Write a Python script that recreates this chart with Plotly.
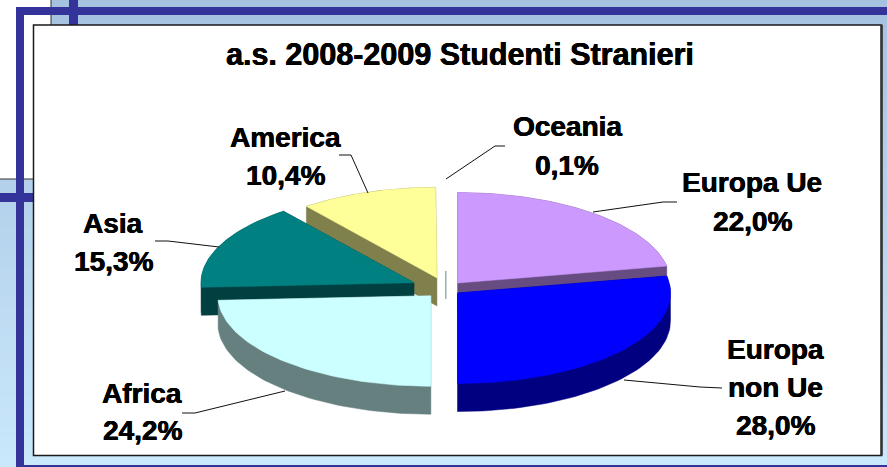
import math
import plotly.graph_objects as go

# ---- data ----
categories = ["Europa Ue", "Europa non Ue", "Africa", "Asia", "America", "Oceania"]
values = [22.0, 28.0, 24.2, 15.3, 10.4, 0.1]
title_text = "a.s. 2008-2009 Studenti Stranieri"

# ---- styling / layout ----
W, H = 887, 467
top_colors = ["#CC99FF", "#0000FF", "#CCFFFF", "#008080", "#FFFF99", "#FFFFFF"]
side_colors = ["#664C80", "#000080", "#668080", "#004040", "#80804C", "#5F8A8A"]
explode = [0.085, 0.07, 0.103, 0.165, 0.13, 0.2]
CX, CY, RX, RY, DEPTH = 446.0, 289.0, 213.0, 90.5, 28.0
draw_order = [0, 1, 4, 5, 3, 2]
NAVY = "#333399"


def hull(pts):
    pts = sorted(set(pts))
    def half(seq):
        out = []
        for p in seq:
            while len(out) > 1 and (out[-1][0]-out[-2][0])*(p[1]-out[-2][1]) - (out[-1][1]-out[-2][1])*(p[0]-out[-2][0]) <= 0:
                out.pop()
            out.append(p)
        return out[:-1]
    return half(pts) + half(pts[::-1])


total = sum(values)
starts = [sum(values[:i]) / total * 2 * math.pi for i in range(len(values))]
ends = [sum(values[:i + 1]) / total * 2 * math.pi for i in range(len(values))]

fig = go.Figure()
for i in draw_order:
    a0, a1 = starts[i], ends[i]
    mid = (a0 + a1) / 2
    ax = CX + explode[i] * RX * math.sin(mid)
    ay = CY - explode[i] * RY * math.cos(mid)
    n = 60
    arc = [(ax + RX * math.sin(a0 + (a1 - a0) * k / n), ay - RY * math.cos(a0 + (a1 - a0) * k / n)) for k in range(n + 1)]
    top = [(ax, ay)] + arc
    if values[i] < 1:
        fig.add_trace(go.Scatter(x=[ax, ax], y=[ay, ay + DEPTH], mode="lines", line=dict(color=side_colors[i], width=1),
                                 hoverinfo="skip", showlegend=False, name=categories[i]))
        continue
    swept = hull(top + [(x, y + DEPTH) for x, y in top])
    swept.append(swept[0])
    fig.add_trace(go.Scatter(x=[p[0] for p in swept], y=[p[1] for p in swept], mode="lines", fill="toself",
                             fillcolor=side_colors[i], line=dict(color=side_colors[i], width=0.5),
                             hoverinfo="skip", showlegend=False))
    top.append(top[0])
    fig.add_trace(go.Scatter(x=[p[0] for p in top], y=[p[1] for p in top], mode="lines", fill="toself",
                             fillcolor=top_colors[i], line=dict(color=top_colors[i], width=0.5),
                             hoverinfo="skip", showlegend=False, name=categories[i]))

# leader lines
leaders = [
    ([677, 663, 593], [202, 202, 212]),
    ([722, 700, 624], [388, 387, 380]),
    ([182, 195, 285], [413, 413, 391]),
    ([155, 168, 219], [241, 241, 247]),
    ([339, 351, 368], [155, 155, 193]),
    ([505, 495, 446], [146, 146, 179]),
]
for lx, ly in leaders:
    fig.add_trace(go.Scatter(x=lx, y=ly, mode="lines", line=dict(color="#111111", width=1),
                             hoverinfo="skip", showlegend=False))

# ---- background ----
shapes = []
steps = 47
for k in range(steps):
    t = k / (steps - 1)
    col = "rgb(%d,%d,%d)" % (166 + 36 * t, 194 + 38 * t, 225 + 27 * t)
    shapes.append(dict(type="rect", x0=0, x1=W, y0=k * H / steps, y1=(k + 1) * H / steps + 1,
                       fillcolor=col, line_width=0, layer="below"))
shapes += [
    dict(type="rect", x0=0, x1=51, y0=0, y1=179, fillcolor="white", line_width=0, layer="below"),
    dict(type="line", x0=51, x1=51, y0=0, y1=25, line=dict(color="#333333", width=1), layer="below"),
    dict(type="line", x0=0, x1=34, y0=179, y1=179, line=dict(color="#333333", width=1), layer="below"),
    dict(type="rect", x0=69, x1=78, y0=0, y1=26, fillcolor=NAVY, line_width=0, layer="below"),
    dict(type="rect", x0=0, x1=34, y0=193, y1=202, fillcolor=NAVY, line_width=0, layer="below"),
    dict(type="rect", x0=16, x1=887, y0=7, y1=15, fillcolor=NAVY, line_width=0, layer="below"),
    dict(type="rect", x0=16, x1=24, y0=7, y1=467, fillcolor=NAVY, line_width=0, layer="below"),
    dict(type="rect", x0=16, x1=887, y0=465, y1=467, fillcolor=NAVY, line_width=0, layer="below"),
    dict(type="rect", x0=33.5, x1=881.5, y0=25, y1=455.5, fillcolor="white", line=dict(color="#1a1a1a", width=1.5), layer="below"),
    dict(type="line", x0=881.5, x1=881.5, y0=25, y1=455.5, line=dict(color="#333333", width=2.5), layer="below"),
]


def pct(v):
    return f"{v:.1f}%".replace(".", ",")


def txt(x, y, s, size=28):
    return dict(x=x, y=y - 1, text=s, showarrow=False, xanchor="center", yanchor="middle", xref="x", yref="y",
                font=dict(family="Liberation Sans", size=size, color="black", weight="bold",
                          shadow="0.4px 0 0 black, -0.3px 0 0 black"))


annotations = [
    txt(460, 55, title_text, 30.5),
    txt(752, 183, categories[0]), txt(752, 222, pct(values[0])),
    txt(775, 350, categories[1].rsplit(" ", 2)[0]), txt(775, 388, " ".join(categories[1].split(" ")[1:])), txt(775, 426, pct(values[1])),
    txt(142, 394, categories[2]), txt(142, 431, pct(values[2])),
    txt(113, 224, categories[3]), txt(113, 262, pct(values[3])),
    txt(285, 138, categories[4]), txt(285, 176, pct(values[4])),
    txt(567, 127, categories[5]), txt(567, 166, pct(values[5])),
]

fig.update_layout(
    width=W, height=H, margin=dict(l=0, r=0, t=0, b=0), paper_bgcolor="white", plot_bgcolor="rgba(0,0,0,0)",
    xaxis=dict(range=[0, W], visible=False, fixedrange=True),
    yaxis=dict(range=[H, 0], visible=False, fixedrange=True),
    shapes=shapes, annotations=annotations, showlegend=False,
)
fig.write_html("out.html", config=dict(displayModeBar=False),
               post_script="document.body.style.margin='0';document.body.style.overflow='hidden';")
